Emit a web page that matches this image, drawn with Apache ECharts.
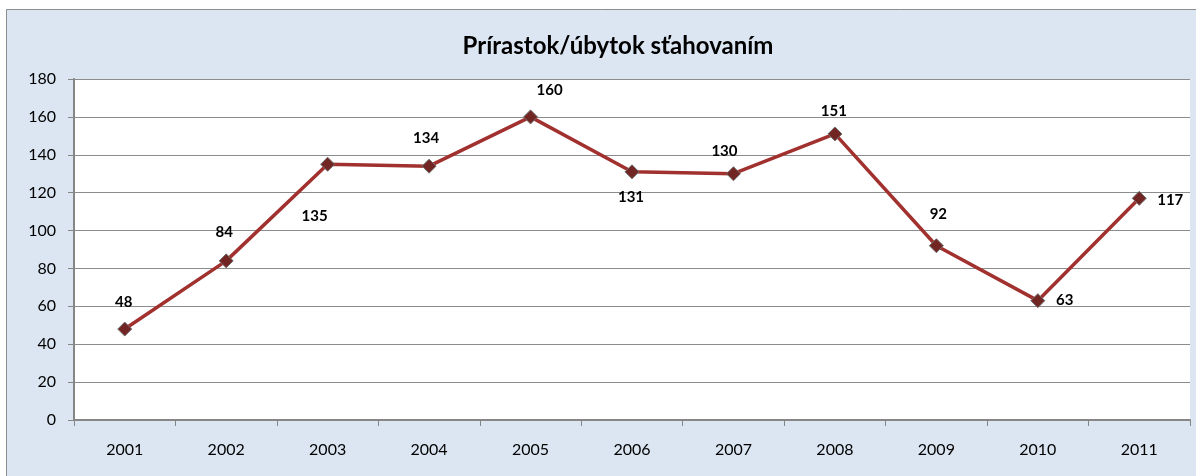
<!DOCTYPE html>
<html>
<head>
<meta charset="utf-8">
<script src="https://cdn.jsdelivr.net/npm/echarts@6/dist/echarts.min.js"></script>
<style>
    html, body { margin: 0; padding: 0; background: #ffffff; }
    #chartContainer { width: 1196px; height: 476px; }
</style>
</head>
<body>
<div id="chartContainer"></div>
<script>
const years = ['2001', '2002', '2003', '2004', '2005', '2006', '2007', '2008', '2009', '2010', '2011'];
const migration = [48, 84, 135, 134, 160, 131, 130, 151, 92, 63, 117];
const yTicks = [0, 20, 40, 60, 80, 100, 120, 140, 160, 180];

// label shifts from the point (Excel places them by hand)
const labelShift = [[-1, -27], [-2, -29], [-13, 52], [-3, -28], [19, -27], [-1, 25], [-9, -23], [-1, -23], [2, -32], [27, 0], [31, 2]];

const font = 'Lato, "Open Sans", sans-serif';

const chart = echarts.init(document.getElementById('chartContainer'), null, {renderer: 'canvas'});
const option = {
    animation: false,
    backgroundColor: '#ffffff',
    graphic: [
        {
            type: 'rect',
            z: -10,
            shape: {x: 6.5, y: 9.5, width: 1200, height: 480},
            style: {fill: '#dce6f2', stroke: '#8c8c8c', lineWidth: 1}
        }
    ],
    title: {
        text: 'Prírastok/úbytok sťahovaním',
        left: 613,
        top: 29,
        textAlign: 'center',
        textStyle: {fontFamily: font, fontSize: 24, fontWeight: 'bold', color: '#000000'}
    },
    grid: {
        left: 74,
        right: 6,
        top: 79,
        bottom: 56,
        show: true,
        backgroundColor: '#ffffff',
        borderWidth: 0
    },
    xAxis: {
        type: 'category',
        data: years,
        boundaryGap: true,
        axisLine: {lineStyle: {color: '#868686', width: 2}},
        axisTick: {show: true, length: 6, lineStyle: {color: '#868686'}},
        axisLabel: {fontFamily: font, fontSize: 16, color: '#000000', margin: 22}
    },
    yAxis: {
        type: 'value',
        min: yTicks[0],
        max: yTicks[yTicks.length - 1],
        interval: 20,
        axisLine: {show: true, lineStyle: {color: '#868686', width: 2}},
        axisTick: {show: true, length: 6, lineStyle: {color: '#868686'}},
        splitLine: {lineStyle: {color: '#8c8c8c', width: 1}},
        axisLabel: {fontFamily: font, fontSize: 16, color: '#000000', margin: 18}
    },
    series: [
        {
            name: 'Prírastok/úbytok sťahovaním',
            type: 'line',
            data: migration.map(function (v, i) {
                return {value: v, label: {offset: labelShift[i]}};
            }),
            lineStyle: {color: '#a1312e', width: 3.5},
            symbol: 'diamond',
            symbolSize: 14,
            itemStyle: {color: '#722624', borderColor: '#6f6f6f', borderWidth: 1},
            label: {
                show: true,
                position: 'inside',
                fontFamily: font,
                fontSize: 15,
                fontWeight: 'bold',
                color: '#000000'
            }
        }
    ]
};
chart.setOption(option);
</script>
</body>
</html>
